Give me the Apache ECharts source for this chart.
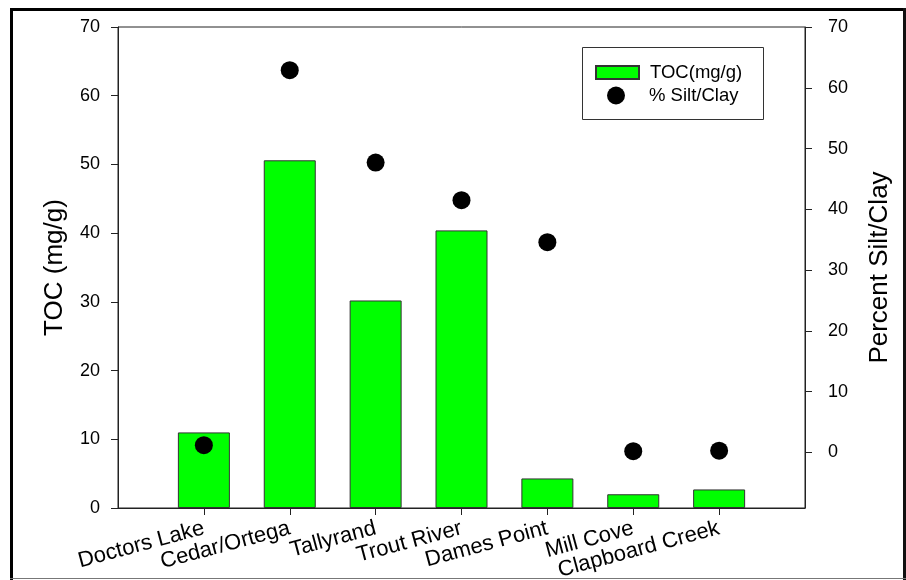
<!DOCTYPE html>
<html>
<head>
<meta charset="utf-8">
<script src="https://cdn.jsdelivr.net/npm/echarts@6/dist/echarts.min.js"></script>
<style>
  html, body { margin: 0; padding: 0; background: #fff; }
  #chart { width: 906px; height: 580px; }
</style>
</head>
<body>
<div id="chart"></div>
<script>
// 站点名称
const sites = ['Doctors Lake', 'Cedar/Ortega', 'Tallyrand', 'Trout River', 'Dames Point', 'Mill Cove', 'Clapboard Creek'];
// TOC (mg/g)
const toc = [11.0, 50.6, 30.2, 40.4, 4.3, 2.0, 2.7];
// 粉砂/粘土百分比
const siltClay = [1.2, 62.9, 47.7, 41.5, 34.6, 0.2, 0.3];
// 刻度标签
const leftTicks = [0, 10, 20, 30, 40, 50, 60, 70];
const rightTicks = [0, 10, 20, 30, 40, 50, 60, 70];
const sitePos = sites.map((s, i) => i + 1);

const font = 'Arial, "Liberation Sans", sans-serif';
const axisColor = '#222';

const myChart = echarts.init(document.getElementById('chart'));

myChart.setOption({
    backgroundColor: '#fff',
    animation: false,
    textStyle: { fontFamily: font, color: '#000' },
    grid: {
        left: 118, right: 101, top: 27, bottom: 72,
        show: true, borderColor: axisColor, borderWidth: 1,
        outerBoundsMode: 'none'
    },
    legend: [
        {
            data: [{ name: 'TOC(mg/g)', icon: 'rect' }],
            left: 595, top: 63, padding: 0,
            itemWidth: 43, itemHeight: 13,
            textStyle: { fontFamily: font, fontSize: 18.5, color: '#000', padding: [0, 0, 0, 6] }
        },
        {
            data: [{ name: '% Silt/Clay', icon: 'circle' }],
            left: 607, top: 86, padding: 0,
            itemWidth: 18, itemHeight: 18,
            textStyle: { fontFamily: font, fontSize: 18.5, color: '#000', padding: [0, 0, 0, 19] }
        }
    ],
    graphic: [
        // 图例边框
        { type: 'rect', shape: { x: 582.5, y: 47.5, width: 181, height: 72 },
          style: { fill: '#fff', stroke: '#333', lineWidth: 1 }, z: 1 },
        // 外框
        { type: 'line', shape: { x1: 11.5, y1: 8, x2: 11.5, y2: 580 }, style: { stroke: '#000', lineWidth: 3 } },
        { type: 'line', shape: { x1: 10, y1: 9.5, x2: 906, y2: 9.5 }, style: { stroke: '#000', lineWidth: 3 } },
        { type: 'line', shape: { x1: 904.5, y1: 8, x2: 904.5, y2: 580 }, style: { stroke: '#111', lineWidth: 3 } },
        { type: 'line', shape: { x1: 10, y1: 578.5, x2: 906, y2: 578.5 }, style: { stroke: '#777', lineWidth: 1 } }
    ],
    xAxis: {
        type: 'value',
        min: 0, max: 8,
        axisLine: { show: true, lineStyle: { color: axisColor, width: 1 } },
        axisTick: { show: true, length: 7, customValues: sitePos, lineStyle: { color: axisColor } },
        splitLine: { show: false },
        axisLabel: {
            customValues: sitePos,
            rotate: 15,
            margin: 20,
            fontSize: 22,
            fontFamily: font,
            color: '#000',
            hideOverlap: false,
            formatter: v => sites[v - 1] || ''
        }
    },
    yAxis: [
        {
            type: 'value',
            position: 'left',
            min: 0, max: 70, interval: 10,
            name: 'TOC (mg/g)',
            nameLocation: 'middle',
            nameGap: 50,
            nameTextStyle: { fontSize: 26, fontFamily: font, color: '#000' },
            axisLine: { show: true, lineStyle: { color: axisColor, width: 1 } },
            axisTick: { show: true, length: 7, lineStyle: { color: axisColor } },
            splitLine: { show: false },
            axisLabel: { margin: 18, fontSize: 18, fontFamily: font, color: '#000' }
        },
        {
            type: 'value',
            position: 'right',
            min: -9.14, max: 70,
            alignTicks: false,
            name: 'Percent Silt/Clay',
            nameLocation: 'middle',
            nameGap: 62,
            nameRotate: 90,
            nameTextStyle: { fontSize: 26, fontFamily: font, color: '#000' },
            axisLine: { show: true, lineStyle: { color: axisColor, width: 1 } },
            axisTick: { show: true, length: 7, customValues: rightTicks, lineStyle: { color: axisColor } },
            splitLine: { show: false },
            axisLabel: { customValues: rightTicks, margin: 23, fontSize: 18, fontFamily: font, color: '#000' }
        }
    ],
    series: [
        {
            name: 'TOC(mg/g)',
            type: 'bar',
            xAxisIndex: 0,
            yAxisIndex: 0,
            barWidth: 52,
            itemStyle: { color: '#00ff00', borderColor: '#333', borderWidth: 1 },
            data: sitePos.map((x, i) => [x, toc[i]])
        },
        {
            name: '% Silt/Clay',
            type: 'scatter',
            xAxisIndex: 0,
            yAxisIndex: 1,
            symbol: 'circle',
            symbolSize: 18,
            itemStyle: { color: '#000', opacity: 1 },
            data: sitePos.map((x, i) => [x, siltClay[i]]),
            z: 3
        }
    ]
});

window.addEventListener('resize', () => {
    myChart.resize();
});
</script>
</body>
</html>
